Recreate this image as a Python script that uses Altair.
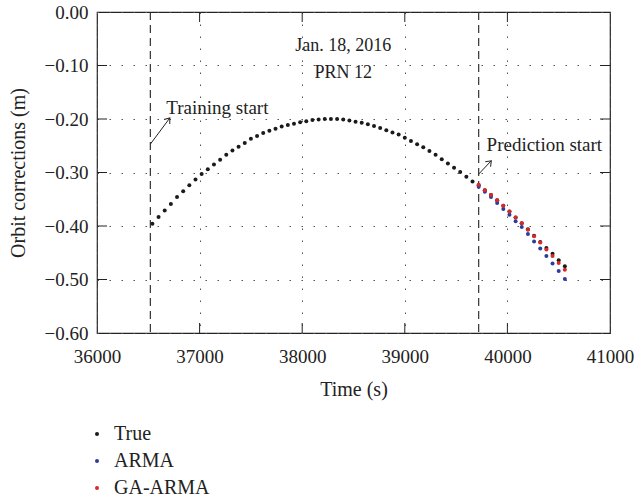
import altair as alt
import pandas as pd

FONT = "Liberation Serif"
W, H = 513, 321

# ---------------- data ----------------
times = [36540, 36600, 36660, 36720, 36780, 36840, 36900, 36960, 37020, 37080,
         37140, 37200, 37260, 37320, 37380, 37440, 37500, 37560, 37620, 37680,
         37740, 37800, 37860, 37920, 37980, 38040, 38100, 38160, 38220, 38280,
         38340, 38400, 38460, 38520, 38580, 38640, 38700, 38760, 38820, 38880,
         38940, 39000, 39060, 39120, 39180, 39240, 39300, 39360, 39420, 39480,
         39540, 39600, 39660, 39720, 39780, 39840, 39900, 39960, 40020, 40080,
         40140, 40200, 40260, 40320, 40380, 40440, 40500, 40560]
true_vals = [-0.396, -0.383, -0.371, -0.359, -0.346, -0.335, -0.324, -0.313, -0.303, -0.294,
             -0.285, -0.276, -0.267, -0.259, -0.252, -0.245, -0.237, -0.232, -0.226, -0.222,
             -0.218, -0.214, -0.211, -0.209, -0.206, -0.204, -0.202, -0.201, -0.200, -0.200,
             -0.200, -0.201, -0.203, -0.205, -0.207, -0.210, -0.213, -0.217, -0.221, -0.225,
             -0.229, -0.235, -0.241, -0.247, -0.253, -0.260, -0.267, -0.275, -0.283, -0.291,
             -0.299, -0.308, -0.317, -0.324, -0.333, -0.342, -0.352, -0.362, -0.373, -0.384,
             -0.395, -0.406, -0.418, -0.430, -0.441, -0.452, -0.464, -0.475]
pred_times = [39720, 39780, 39840, 39900, 39960, 40020, 40080, 40140, 40200, 40260,
              40320, 40380, 40440, 40500, 40560]
arma_vals = [-0.3265, -0.336, -0.346, -0.357, -0.368, -0.379, -0.391, -0.402, -0.415, -0.429,
             -0.442, -0.456, -0.470, -0.484, -0.499]
ga_arma_vals = [-0.323, -0.333, -0.342, -0.352, -0.362, -0.373, -0.384, -0.395, -0.407, -0.419,
                -0.431, -0.444, -0.456, -0.469, -0.482]

series_names = ["True", "ARMA", "GA-ARMA"]
series_colors = ["#1a1a1a", "#2b3d9c", "#d9272a"]

x_ticks = [36000, 37000, 38000, 39000, 40000, 41000]
y_ticks = [-0.6, -0.5, -0.4, -0.3, -0.2, -0.1, 0.0]
inner_x_ticks = [37000, 38000, 39000, 40000]
inner_y_ticks = [-0.5, -0.4, -0.3, -0.2, -0.1]
marker_times = [36520, 39720]

# annotations
arrow_x = [36520, 39720]
arrow_y = [-0.247, -0.303]
arrow_x2 = [36710, 39843]
arrow_y2 = [-0.198, -0.278]
arrow_angle = [37.6, 43.7]
label_text = ["Training start", "Prediction start"]
label_x = [36675, 39797]
label_y = [-0.1907, -0.2593]
info_text = ["Jan. 18, 2016", "PRN 12"]
info_x = [38400, 38400]
info_y = [-0.0729, -0.124]

# ---------------- tables ----------------
rows = []
for t, v in zip(times, true_vals):
    rows.append({"time": t, "value": v, "series": "True"})
for t, v in zip(pred_times, arma_vals):
    rows.append({"time": t, "value": v, "series": "ARMA"})
for t, v in zip(pred_times, ga_arma_vals):
    rows.append({"time": t, "value": v, "series": "GA-ARMA"})
df = pd.DataFrame(rows)

xs = alt.Scale(domain=[36000, 41000], nice=False, zero=False)
ys = alt.Scale(domain=[-0.6, 0.0], nice=False, zero=False)

x_axis = alt.Axis(values=x_ticks, format="d", title="Time (s)", grid=True,
                  gridDash=[1.5, 10.5], gridColor="#555", gridWidth=1,
                  tickSize=0, domain=False, labelFont=FONT, labelFontSize=19,
                  labelColor="#222", labelPadding=14, labelFlush=False, labelOverlap=False,
                  titleFont=FONT, titleFontSize=20,
                  titleFontWeight="normal", titleColor="#222", titlePadding=13)
y_axis = alt.Axis(values=y_ticks, format=".2f", title="Orbit corrections (m)", grid=True,
                  gridDash=[1.5, 10.5], gridColor="#555", gridWidth=1,
                  tickSize=0, domain=False, labelFont=FONT, labelFontSize=19,
                  labelColor="#222", labelPadding=9, labelFlush=False, labelOverlap=False,
                  titleFont=FONT, titleFontSize=20,
                  titleFontWeight="normal", titleColor="#222", titlePadding=16)


def X(field):
    return alt.X(field, type="quantitative", scale=xs, axis=x_axis)


def Y(field):
    return alt.Y(field, type="quantitative", scale=ys, axis=y_axis)


points = alt.Chart(df).mark_circle(size=16, opacity=1).encode(
    x=X("time"),
    y=Y("value"),
    color=alt.Color("series:N",
                    scale=alt.Scale(domain=series_names, range=series_colors),
                    legend=alt.Legend(orient="none", legendX=-10, legendY=412, title=None,
                                      symbolType="circle", symbolSize=16,
                                      labelFont=FONT, labelFontSize=20, labelColor="#222",
                                      rowPadding=7, labelOffset=7)),
)

markers = alt.Chart(pd.DataFrame({"t": marker_times})).mark_rule(
    color="#333", strokeWidth=1.2, strokeDash=[8, 5]
).encode(x=X("t"))

xt = pd.DataFrame({"t": inner_x_ticks})
yt = pd.DataFrame({"v": inner_y_ticks})
tick_bottom = alt.Chart(xt).mark_rule(color="#222").encode(
    x=X("t"), y=alt.value(H), y2=alt.value(H - 10))
tick_top = alt.Chart(xt).mark_rule(color="#222").encode(
    x=X("t"), y=alt.value(0), y2=alt.value(10))
tick_left = alt.Chart(yt).mark_rule(color="#222").encode(
    y=Y("v"), x=alt.value(0), x2=alt.value(10))
tick_right = alt.Chart(yt).mark_rule(color="#222").encode(
    y=Y("v"), x=alt.value(W), x2=alt.value(W - 10))

arr_df = pd.DataFrame({"x": arrow_x, "y": arrow_y, "x2": arrow_x2, "y2": arrow_y2,
                       "angle": arrow_angle})
arrow_lines = alt.Chart(arr_df).mark_rule(color="#222", strokeWidth=1).encode(
    x=X("x"), y=Y("y"), x2="x2:Q", y2="y2:Q")
arrow_heads = alt.Chart(arr_df).mark_point(
    shape="M-0.6,0.8L0,0L0.6,0.8", filled=False, color="#222", strokeWidth=1,
    size=150, opacity=1
).encode(x=X("x2"), y=Y("y2"), angle=alt.Angle("angle:Q", scale=None))

lab_df = pd.DataFrame({"x": label_x, "y": label_y, "text": label_text})
labels = alt.Chart(lab_df).mark_text(
    align="left", baseline="alphabetic", font=FONT, fontSize=19, color="#222"
).encode(x=X("x"), y=Y("y"), text="text:N")

info_df = pd.DataFrame({"x": info_x, "y": info_y, "text": info_text})
info = alt.Chart(info_df).mark_text(
    align="center", baseline="alphabetic", font=FONT, fontSize=18, color="#222"
).encode(x=X("x"), y=Y("y"), text="text:N")

chart = alt.layer(
    markers, tick_bottom, tick_top, tick_left, tick_right,
    arrow_lines, arrow_heads, labels, info, points
).properties(
    width=W, height=H,
    autosize=alt.AutoSizeParams(type="none"),
    padding={"left": 97, "top": 12, "right": 25, "bottom": 167},
    background="white",
).configure_view(stroke="#222", strokeWidth=1.2)

chart.save("out.html", embed_options={"renderer": "svg", "actions": False})
